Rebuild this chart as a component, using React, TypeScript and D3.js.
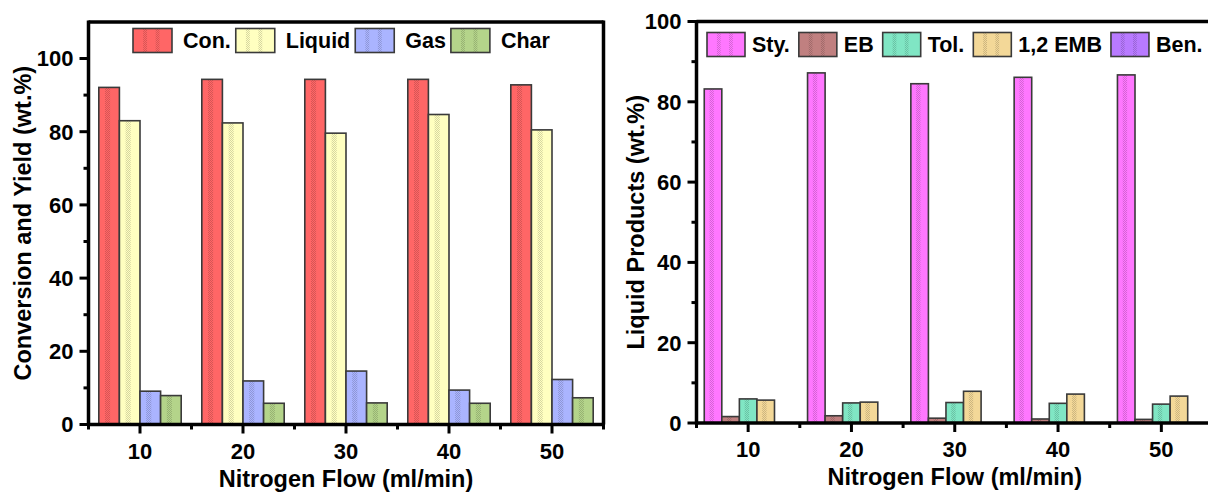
import React from "react";
import * as d3 from "d3";

// Nitrogen flow rates (ml/min)
const flows = ["10", "20", "30", "40", "50"];

// Conversion and product yields (wt.%)
const yieldNames = ["Con.", "Liquid", "Gas", "Char"];
const conversion = [92.1, 94.3, 94.3, 94.3, 92.8];
const liquidYield = [83.0, 82.4, 79.6, 84.7, 80.5];
const gasYield = [9.1, 11.9, 14.6, 9.4, 12.3];
const charYield = [7.9, 5.8, 5.9, 5.8, 7.3];
const yieldColors = ["#ff6666", "#ffffc0", "#aab4ff", "#b4d48a"];

// Liquid product composition (wt.%)
const productNames = ["Sty.", "EB", "Tol.", "1,2 EMB", "Ben."];
const styrene = [83.2, 87.2, 84.5, 86.1, 86.7];
const ethylbenzene = [1.6, 1.8, 1.2, 1.0, 0.9];
const toluene = [6.0, 5.0, 5.1, 4.9, 4.7];
const ethylMethylBenzene = [5.7, 5.2, 7.9, 7.2, 6.7];
const benzene = [0, 0, 0, 0, 0];
const productColors = ["#ff77ff", "#c08080", "#80e6c4", "#f3d898", "#b87aff"];

const yTicks = [0, 20, 40, 60, 80, 100];

const FONT = '"Liberation Sans", Arial, Helvetica, sans-serif';
const TICK_FS = 22;
const TITLE_FS = 23.5;
const LEGEND_FS = 21.5;

let measureCtx: CanvasRenderingContext2D | null = null;
function textWidth(s: string, size: number) {
  if (!measureCtx) measureCtx = document.createElement("canvas").getContext("2d");
  if (!measureCtx) return s.length * size * 0.6;
  measureCtx.font = `bold ${size}px ${FONT}`;
  return measureCtx.measureText(s).width;
}

type PanelProps = {
  id: string;
  x0: number;
  x1: number;
  yZero: number;
  y100: number;
  yMax: number;
  names: string[];
  colors: string[];
  series: number[][];
  groupFrac: number;
  yTitle: string;
  yTitleX: number;
  legendX: number;
  legendY: number;
  boxW: number;
  boxGap: number;
  itemGap: number;
};

function Panel(p: PanelProps) {
  const x = d3.scaleBand<string>().domain(flows).range([p.x0, p.x1]);
  const bw = x.bandwidth();
  const inner = d3
    .scaleBand<string>()
    .domain(p.names)
    .range([-(bw * p.groupFrac) / 2, (bw * p.groupFrac) / 2]);
  const y = d3.scaleLinear().domain([0, 100]).range([p.yZero, p.y100]);
  const yTop = y(p.yMax);
  const minorTicks = d3.range(10, p.yMax, 20);
  const boundaries = d3.range(0, flows.length + 1).map((i) => p.x0 + i * bw);

  // legend layout: box, label, next box
  const boxH = 24;
  let cx = p.legendX;
  const legend = p.names.map((n, i) => {
    const item = { name: n, color: p.colors[i], bx: cx, tx: cx + p.boxW + p.boxGap };
    cx = item.tx + textWidth(n, LEGEND_FS) + p.itemGap;
    return item;
  });
  const texture = `url(#dots-${p.id})`;

  return (
    <g>
      {/* bars */}
      {p.series.map((vals, si) =>
        vals.map((v, ci) => {
          const bx = (x(flows[ci]) as number) + bw / 2 + (inner(p.names[si]) as number);
          const w = inner.bandwidth();
          if (v <= 0) return null;
          const top = y(v);
          const h = p.yZero - top;
          return (
            <g key={`${si}-${ci}`}>
              <rect x={bx} y={top} width={w} height={h} fill={p.colors[si]} />
              <rect x={bx + w * 0.3} y={top} width={w * 0.25} height={h} fill={texture} />
              <rect
                x={bx}
                y={top}
                width={w}
                height={h}
                fill="none"
                stroke="#3a3a3a"
                strokeWidth={1.6}
              />
            </g>
          );
        })
      )}

      {/* frame and axes */}
      <line x1={p.x0} x2={p.x0} y1={yTop - 1.5} y2={p.yZero + 1.5} stroke="#000" strokeWidth={3.5} />
      <line x1={p.x0 - 1.5} x2={p.x1 + 1.5} y1={p.yZero} y2={p.yZero} stroke="#000" strokeWidth={3.5} />
      <line x1={p.x0} x2={p.x1} y1={yTop} y2={yTop} stroke="#000" strokeWidth={3.5} />
      <line x1={p.x1} x2={p.x1} y1={yTop - 1.5} y2={p.yZero} stroke="#000" strokeWidth={3.5} />

      {/* y ticks */}
      {yTicks.map((t) => (
        <g key={`yt${t}`}>
          <line x1={p.x0 - 9} x2={p.x0} y1={y(t)} y2={y(t)} stroke="#000" strokeWidth={3} />
          <text
            x={p.x0 - 15}
            y={y(t)}
            dy="0.36em"
            textAnchor="end"
            fontFamily={FONT}
            fontWeight="bold"
            fontSize={TICK_FS}
          >
            {t}
          </text>
        </g>
      ))}
      {minorTicks.map((t) => (
        <line key={`ym${t}`} x1={p.x0 - 5} x2={p.x0} y1={y(t)} y2={y(t)} stroke="#000" strokeWidth={3} />
      ))}

      {/* x ticks */}
      {flows.map((f) => {
        const cxp = (x(f) as number) + bw / 2;
        return (
          <g key={`xt${f}`}>
            <line x1={cxp} x2={cxp} y1={p.yZero} y2={p.yZero + 9} stroke="#000" strokeWidth={3} />
            <text
              x={cxp}
              y={p.yZero + 34}
              textAnchor="middle"
              fontFamily={FONT}
              fontWeight="bold"
              fontSize={TICK_FS}
            >
              {f}
            </text>
          </g>
        );
      })}
      {boundaries.map((b, i) => (
        <line key={`xm${i}`} x1={b} x2={b} y1={p.yZero} y2={p.yZero + 5} stroke="#000" strokeWidth={3} />
      ))}

      {/* axis titles */}
      <text
        x={p.x0 + (5 * bw) / 2}
        y={p.yZero + 62}
        textAnchor="middle"
        fontFamily={FONT}
        fontWeight="bold"
        fontSize={TITLE_FS}
      >
        Nitrogen Flow (ml/min)
      </text>
      <text
        transform={`translate(${p.yTitleX},${(p.yZero + yTop) / 2}) rotate(-90)`}
        textAnchor="middle"
        fontFamily={FONT}
        fontWeight="bold"
        fontSize={TITLE_FS}
      >
        {p.yTitle}
      </text>

      {/* legend */}
      {legend.map((l) => (
        <g key={`lg${l.name}`}>
          <rect x={l.bx} y={p.legendY - boxH / 2} width={p.boxW} height={boxH} fill={l.color} />
          <rect
            x={l.bx + p.boxW * 0.26}
            y={p.legendY - boxH / 2}
            width={p.boxW * 0.1}
            height={boxH}
            fill={texture}
          />
          <rect
            x={l.bx + p.boxW * 0.58}
            y={p.legendY - boxH / 2}
            width={p.boxW * 0.1}
            height={boxH}
            fill={texture}
          />
          <rect
            x={l.bx}
            y={p.legendY - boxH / 2}
            width={p.boxW}
            height={boxH}
            fill="none"
            stroke="#3a3a3a"
            strokeWidth={1.6}
          />
          <text
            x={l.tx}
            y={p.legendY}
            dy="0.36em"
            fontFamily={FONT}
            fontWeight="bold"
            fontSize={LEGEND_FS}
          >
            {l.name}
          </text>
        </g>
      ))}
    </g>
  );
}

export default function App() {
  return (
    <svg
      width={1208}
      height={493}
      viewBox="0 0 1208 493"
      style={{ position: "absolute", left: 0, top: 0, background: "#fff" }}
    >
      <defs>
        {["a", "b"].map((id) => (
          <pattern key={id} id={`dots-${id}`} width={2} height={2} patternUnits="userSpaceOnUse">
            <rect x={0} y={0} width={1} height={1} fill="#000" fillOpacity={0.16} />
            <rect x={1} y={1} width={1} height={1} fill="#000" fillOpacity={0.16} />
          </pattern>
        ))}
      </defs>
      <rect x={0} y={0} width={1208} height={493} fill="#fff" />
      <Panel
        id="a"
        x0={88.5}
        x1={88.5 + 5 * 103}
        yZero={424.5}
        y100={58.5}
        yMax={110}
        names={yieldNames}
        colors={yieldColors}
        series={[conversion, liquidYield, gasYield, charYield]}
        groupFrac={0.8}
        yTitle="Conversion and Yield (wt.%)"
        yTitleX={31}
        legendX={133}
        legendY={40.5}
        boxW={39}
        boxGap={11}
        itemGap={5}
      />
      <Panel
        id="b"
        x0={696.5}
        x1={696.5 + 5 * 103.3}
        yZero={423}
        y100={21.5}
        yMax={100}
        names={productNames}
        colors={productColors}
        series={[styrene, ethylbenzene, toluene, ethylMethylBenzene, benzene]}
        groupFrac={0.85}
        yTitle="Liquid Products (wt.%)"
        yTitleX={644}
        legendX={707}
        legendY={44.5}
        boxW={38}
        boxGap={7}
        itemGap={9}
      />
    </svg>
  );
}
